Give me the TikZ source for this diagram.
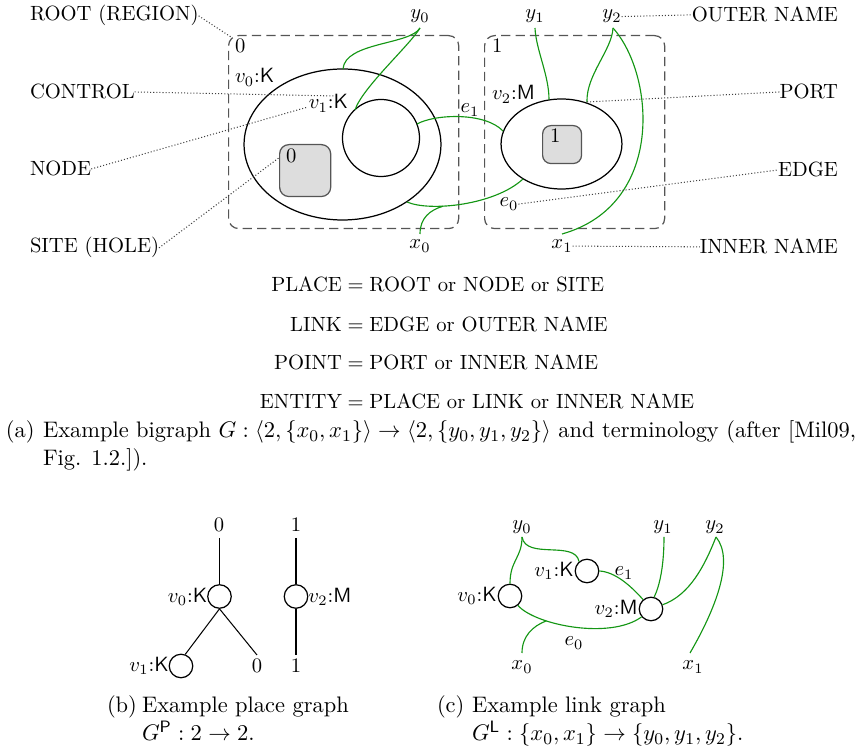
\documentclass[tikz,border=0pt]{standalone}
\usetikzlibrary{shapes.geometric}
\definecolor{lg}{RGB}{20,150,20}
\definecolor{dg}{RGB}{85,85,85}
\definecolor{sitefill}{RGB}{221,221,221}
\begin{document}
\begin{tikzpicture}[x=0.4855pt,y=-0.4855pt,
  txt/.style={inner sep=0pt, outer sep=0pt},
  region/.style={draw=dg, dash pattern=on 4.5pt off 2.5pt, line width=0.6pt, rounded corners=4.9pt, inner sep=0pt},
  bnode/.style={draw=black, line width=0.6pt, inner sep=0pt},
  site/.style={draw=dg, fill=sitefill, line width=0.6pt, rounded corners=4.5pt, inner sep=0pt, anchor=north west},
  link/.style={draw=lg, line width=0.55pt},
  leader/.style={draw=black!75, densely dotted, line width=0.5pt},
  pnode/.style={circle, draw, line width=0.6pt, minimum size=11.4pt, inner sep=0pt},
  tline/.style={draw, line width=0.5pt},
  bigcap/.style={inner sep=0pt, outer sep=0pt, font=\fontsize{10.9}{13.6}\selectfont},
]
\useasboundingbox (0,0) rectangle (858,749);

% ---------- (a) bigraph ----------
\node[region, anchor=north west, minimum width=111.7pt, minimum height=93.7pt] (r0) at (228,35) {};
\node[region, anchor=north west, minimum width=87.4pt, minimum height=93.7pt] (r1) at (484,35) {};
\node[txt, anchor=base west] (r0l) at (235,53) {0};
\node[txt, anchor=base west] (r1l) at (492,53) {1};

\node[bnode, ellipse, minimum width=95.6pt, minimum height=73.3pt] (v0) at (342.5,144.5) {};
\node[bnode, circle, minimum size=37.4pt] (v1) at (381,138) {};
\node[site, minimum width=24.8pt, minimum height=25.2pt] (s0) at (279,144) {};
\node[txt, anchor=base west] (s0l) at (286,163) {0};
\node[bnode, ellipse, minimum width=58.7pt, minimum height=43.7pt] (v2) at (561.5,144) {};
\node[site, minimum width=18.9pt, minimum height=18.4pt, rounded corners=4pt] (s1) at (542,125) {};
\node[txt, anchor=base west] (s1l) at (550,143) {1};

\node[txt, anchor=base west] (v0l) at (235,83) {$v_0$:\textsf{K}};
\node[txt, anchor=base east] (v1l) at (348,109) {$v_1$:\textsf{K}};
\node[txt, anchor=base west] (v2l) at (492,100) {$v_2$:\textsf{M}};

\node[txt, anchor=base] (y0) at (420,19) {$y_0$};
\node[txt, anchor=base] (y1) at (535,19) {$y_1$};
\node[txt, anchor=base] (y2) at (612,19) {$y_2$};
\node[txt, anchor=base] (x0) at (420,249) {$x_0$};
\node[txt, anchor=base] (x1) at (562,249) {$x_1$};
\node[txt, anchor=base] (e1) at (470,113) {$e_1$};
\node[txt, anchor=base] (e0) at (509,207) {$e_0$};

\coordinate (y0p) at (420,28);
\coordinate (y1p) at (535,28);
\coordinate (y2p) at (613,28);
\coordinate (x0p) at (420,234);
\coordinate (x1p) at (562,234);
\coordinate (v0port) at (343,69);
\coordinate (v1port) at (355,110);
\coordinate (v2portA) at (549,99.5);
\coordinate (v2portB) at (587,102);
\coordinate (v1e) at (417,124);
\coordinate (v2e) at (503,131);
\coordinate (v0e) at (407,202);
\coordinate (v2f) at (523,179);

\draw[link] (y0p) .. controls (410,45) and (345,42) .. (v0port);
\draw[link] (y0p) .. controls (410,45) and (362,88) .. (v1port);
\draw[link] (y1p) .. controls (536,50) and (549,75) .. (v2portA);
\draw[link] (y2p) .. controls (612,50) and (586,75) .. (v2portB);
\draw[link] (y2p) .. controls (655,75) and (665,205) .. (x1p);
\draw[link] (v1e) .. controls (435,114) and (485,112) .. (v2e);
\draw[link] (v0e) .. controls (430,212) and (495,205) .. (v2f) coordinate[pos=0.35] (e0j);
\draw[link] (x0p) .. controls (420,218) and (430,210) .. (e0j);

% terminology labels
\node[txt, anchor=base west] (troot) at (30,21) {ROOT (REGION)};
\node[txt, anchor=base west] (tctrl) at (30,99) {CONTROL};
\node[txt, anchor=base west] (tnode) at (30,176) {NODE};
\node[txt, anchor=base west] (tsite) at (30,253) {SITE (HOLE)};
\node[txt, anchor=base east] (touter) at (838,22) {OUTER NAME};
\node[txt, anchor=base east] (tport) at (838,99) {PORT};
\node[txt, anchor=base east] (tedge) at (838,177) {EDGE};
\node[txt, anchor=base east] (tinner) at (838,254) {INNER NAME};

\coordinate (rootc) at (231,37);
\coordinate (ctrlc) at (335,96);
\coordinate (nodec) at (308,107);
\coordinate (sitec) at (280,157);
\draw[leader] (troot.east) -- (rootc);
\draw[leader] (tctrl.east) -- (ctrlc);
\draw[leader] (tnode.east) -- (nodec);
\draw[leader] (tsite.east) -- (sitec);
\draw[leader] (y2.east) -- (touter.west);
\draw[leader] (v2portB) -- (tport.west);
\draw[leader] (e0.east) -- (tedge.west);
\draw[leader] (x1.east) -- (tinner.west);

% equations
\node[txt, anchor=base east] (eq1a) at (342,292) {PLACE};
\node[txt, anchor=base west] (eq1b) at (342,292) {${}={}$ROOT or NODE or SITE};
\node[txt, anchor=base east] (eq2a) at (342,332) {LINK};
\node[txt, anchor=base west] (eq2b) at (342,332) {${}={}$EDGE or OUTER NAME};
\node[txt, anchor=base east] (eq3a) at (342,370) {POINT};
\node[txt, anchor=base west] (eq3b) at (342,370) {${}={}$PORT or INNER NAME};
\node[txt, anchor=base east] (eq4a) at (342,409) {ENTITY};
\node[txt, anchor=base west] (eq4b) at (342,409) {${}={}$PLACE or LINK or INNER NAME};

% caption (a)
\node[bigcap, anchor=base west] (capa) at (6,438) {(a)};
\node[bigcap, anchor=base west] (capa1) at (43,438) {Example bigraph $G : \langle 2, \{x_0, x_1\}\rangle \rightarrow \langle 2, \{y_0, y_1, y_2\}\rangle$ and terminology (after [Mil09,};
\node[bigcap, anchor=base west] (capa2) at (43,466) {Fig. 1.2.]).};

% ---------- (b) place graph ----------
\node[txt, anchor=base] (p0t) at (219,532) {0};
\node[txt, anchor=base] (p1t) at (296,532) {1};
\node[pnode] (pv0) at (219.5,596.5) {};
\node[pnode] (pv2) at (296,596.5) {};
\node[pnode] (pv1) at (181,666) {};
\node[txt, anchor=base] (p0b) at (257,673) {0};
\node[txt, anchor=base] (p1b) at (296,673) {1};
\node[txt, anchor=east] (pv0l) at (pv0.west) {$v_0$:\textsf{K}};
\node[txt, anchor=west] (pv2l) at (pv2.east) {$v_2$:\textsf{M}};
\node[txt, anchor=east] (pv1l) at (pv1.west) {$v_1$:\textsf{K}};
\coordinate (p0tb) at (219.5,538);
\coordinate (p1tb) at (296,538);
\coordinate (p0bt) at (257,655);
\coordinate (p1bt) at (296,655);
\draw[tline] (p0tb) -- (pv0.north);
\draw[tline] (p1tb) -- (pv2.north);
\draw[tline] (pv0.south) -- (pv1.70);
\draw[tline] (pv0.south) -- (p0bt);
\draw[tline] (pv2.south) -- (p1bt);

\node[bigcap, anchor=base west] (capb) at (107,713) {(b)};
\node[bigcap, anchor=base west] (capb1) at (142,713) {Example place graph};
\node[bigcap, anchor=base west] (capb2) at (142,741) {$G^{\mathsf{P}} : 2 \rightarrow 2$.};

% ---------- (c) link graph ----------
\node[pnode] (lv0) at (510,596) {};
\node[pnode] (lv1) at (587,571) {};
\node[pnode] (lv2) at (651,609) {};
\node[txt, anchor=east] (lv0l) at ([xshift=-0.5pt]lv0.west) {$v_0$:\textsf{K}};
\node[txt, anchor=east] (lv1l) at ([xshift=-0.5pt]lv1.west) {$v_1$:\textsf{K}};
\node[txt, anchor=east] (lv2l) at ([xshift=-0.5pt]lv2.west) {$v_2$:\textsf{M}};
\node[txt, anchor=base] (ly0) at (522,530) {$y_0$};
\node[txt, anchor=base] (ly1) at (663,530) {$y_1$};
\node[txt, anchor=base] (ly2) at (715,530) {$y_2$};
\node[txt, anchor=base] (lx0) at (522,670) {$x_0$};
\node[txt, anchor=base] (lx1) at (693,670) {$x_1$};
\node[txt, anchor=base] (le1) at (624,576) {$e_1$};
\node[txt, anchor=base] (le0) at (574,646) {$e_0$};

\coordinate (ly0p) at (522,537);
\coordinate (ly1p) at (664,537);
\coordinate (ly2p) at (716,537);
\coordinate (lx0p) at (522,653);
\coordinate (lx1p) at (690,653);

\draw[link] (ly0p) .. controls (522,558) and (510,560) .. (lv0.north);
\draw[link] (ly0p) .. controls (526,560) and (575,540) .. (lv1.130);
\draw[link] (lv1.east) .. controls (615,572) and (630,585) .. (lv2.130);
\draw[link] (lv0.-50) .. controls (535,625) and (610,640) .. (lv2.-140) coordinate[pos=0.3] (le0j);
\draw[link] (lx0p) .. controls (522,636) and (533,626) .. (le0j);
\draw[link] (ly1p) .. controls (664,565) and (660,585) .. (lv2.75);
\draw[link] (ly2p) .. controls (705,565) and (690,595) .. (lv2.20);
\draw[link] (ly2p) .. controls (735,560) and (715,610) .. (lx1p);

\node[bigcap, anchor=base west] (capc) at (437,713) {(c)};
\node[bigcap, anchor=base west] (capc1) at (472,713) {Example link graph};
\node[bigcap, anchor=base west] (capc2) at (472,741) {$G^{\mathsf{L}} : \{x_0, x_1\} \rightarrow \{y_0, y_1, y_2\}$.};
\end{tikzpicture}
\end{document}
